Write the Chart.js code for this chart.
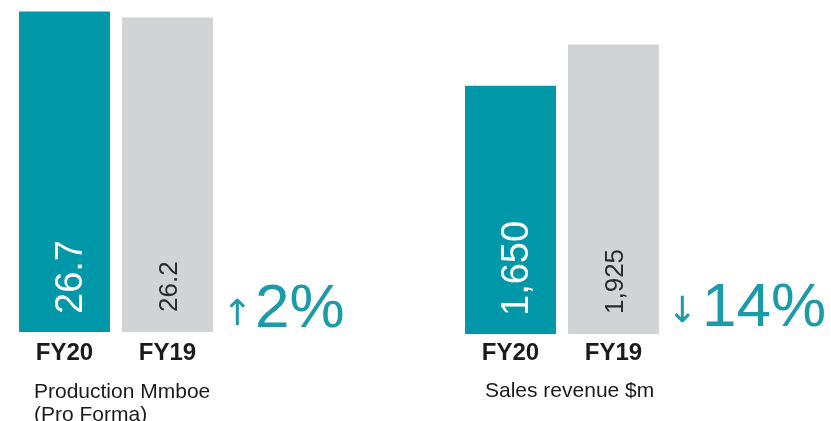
<!DOCTYPE html>
<html>
<head>
<meta charset="utf-8">
<script src="https://cdn.jsdelivr.net/npm/chart.js@4.4.1/dist/chart.umd.min.js"></script>
<style>
  html, body { margin: 0; padding: 0; background: #ffffff; }
  body { width: 831px; height: 421px; position: relative; overflow: hidden; font-family: "Liberation Sans", Arial, sans-serif; }
  .wrap { position: absolute; top: 0; }
  .sub { position: absolute; font-size: 21px; line-height: 23px; color: #1b1b1b; white-space: nowrap; }
  .pct { position: absolute; font-size: 62px; line-height: 62px; color: #1b9aa8; white-space: nowrap; }
  .arr { position: absolute; font-family: "DejaVu Sans", sans-serif; font-size: 36px; line-height: 36px; color: #1b9aa8; white-space: nowrap; }
</style>
</head>
<body>
<div class="wrap" style="left:0px"><canvas id="c1" width="232" height="421"></canvas></div>
<div class="wrap" style="left:446px"><canvas id="c2" width="232" height="421"></canvas></div>

<div class="sub" id="sub1" style="left:34px; top:379px;"></div>
<div class="sub" id="sub2" style="left:485px; top:378px;"></div>

<div class="arr" id="arr1" style="left:222px; top:295px;"></div>
<div class="pct" id="pct1" style="left:255px; top:275px;"></div>
<div class="arr" id="arr2" style="left:667px; top:292px;"></div>
<div class="pct" id="pct2" style="left:702px; top:274px;"></div>

<script>
// ---- data ----
const categories = ['FY20', 'FY19'];
const productionValues = [26.7, 26.2];
const revenueValues = [1650, 1925];
const productionTitle = ['Production Mmboe', '(Pro Forma)'];
const revenueTitle = ['Sales revenue $m'];
const productionChange = { arrow: '\u2191', text: '2%' };
const revenueChange = { arrow: '\u2193', text: '14%' };

// ---- styles ----
const TEAL = '#0098a8';
const GREY = '#d1d3d4';
const FONT = "'Liberation Sans', Arial, sans-serif";

document.getElementById('sub1').innerHTML = productionTitle.join('<br>');
document.getElementById('sub2').innerHTML = revenueTitle.join('<br>');
document.getElementById('arr1').textContent = productionChange.arrow;
document.getElementById('pct1').textContent = productionChange.text;
document.getElementById('arr2').textContent = revenueChange.arrow;
document.getElementById('pct2').textContent = revenueChange.text;

const barLabelPlugin = {
  id: 'barLabels',
  afterDatasetsDraw(chart, args, opts) {
    const ctx = chart.ctx;
    const meta = chart.getDatasetMeta(0);
    const data = chart.data.datasets[0].data;
    meta.data.forEach((bar, i) => {
      const st = opts.styles[i];
      ctx.save();
      ctx.translate(bar.x + st.dx, bar.base - st.dy);
      ctx.rotate(-Math.PI / 2);
      ctx.font = st.size + 'px ' + FONT;
      ctx.fillStyle = st.color;
      ctx.textAlign = 'left';
      ctx.textBaseline = 'alphabetic';
      ctx.fillText(opts.format(data[i]), 0, 0);
      ctx.restore();
    });
  }
};

function makeChart(id, values, yMax, topPad, axisHeight, tickPad, format) {
  return new Chart(document.getElementById(id), {
    type: 'bar',
    data: {
      labels: categories,
      datasets: [{
        data: values,
        backgroundColor: [TEAL, GREY],
        borderWidth: 0,
        barPercentage: 0.883,
        categoryPercentage: 1.0
      }]
    },
    options: {
      responsive: false,
      animation: false,
      events: [],
      layout: { padding: { left: 13, right: 13, top: topPad, bottom: 0 } },
      plugins: {
        legend: { display: false },
        tooltip: { enabled: false },
        barLabels: {
          format: format,
          styles: [
            { dx: 17, dy: 18, size: 38, color: '#ffffff' },
            { dx: 9.5, dy: 20, size: 26, color: '#2a2a2a' }
          ]
        }
      },
      scales: {
        x: {
          grid: { display: false, drawTicks: false },
          border: { display: false },
          ticks: {
            color: '#1b1b1b',
            padding: tickPad,
            font: { family: FONT, size: 24, weight: 'bold' }
          },
          afterFit(scale) { scale.height = axisHeight; }
        },
        y: { display: false, min: 0, max: yMax }
      }
    },
    plugins: [barLabelPlugin]
  });
}

makeChart('c1', productionValues, 27.5, 2, 89, 7, v => v.toFixed(1));
makeChart('c2', revenueValues, 2200, 3, 87, 5, v => v.toLocaleString('en-US'));
</script>
</body>
</html>
